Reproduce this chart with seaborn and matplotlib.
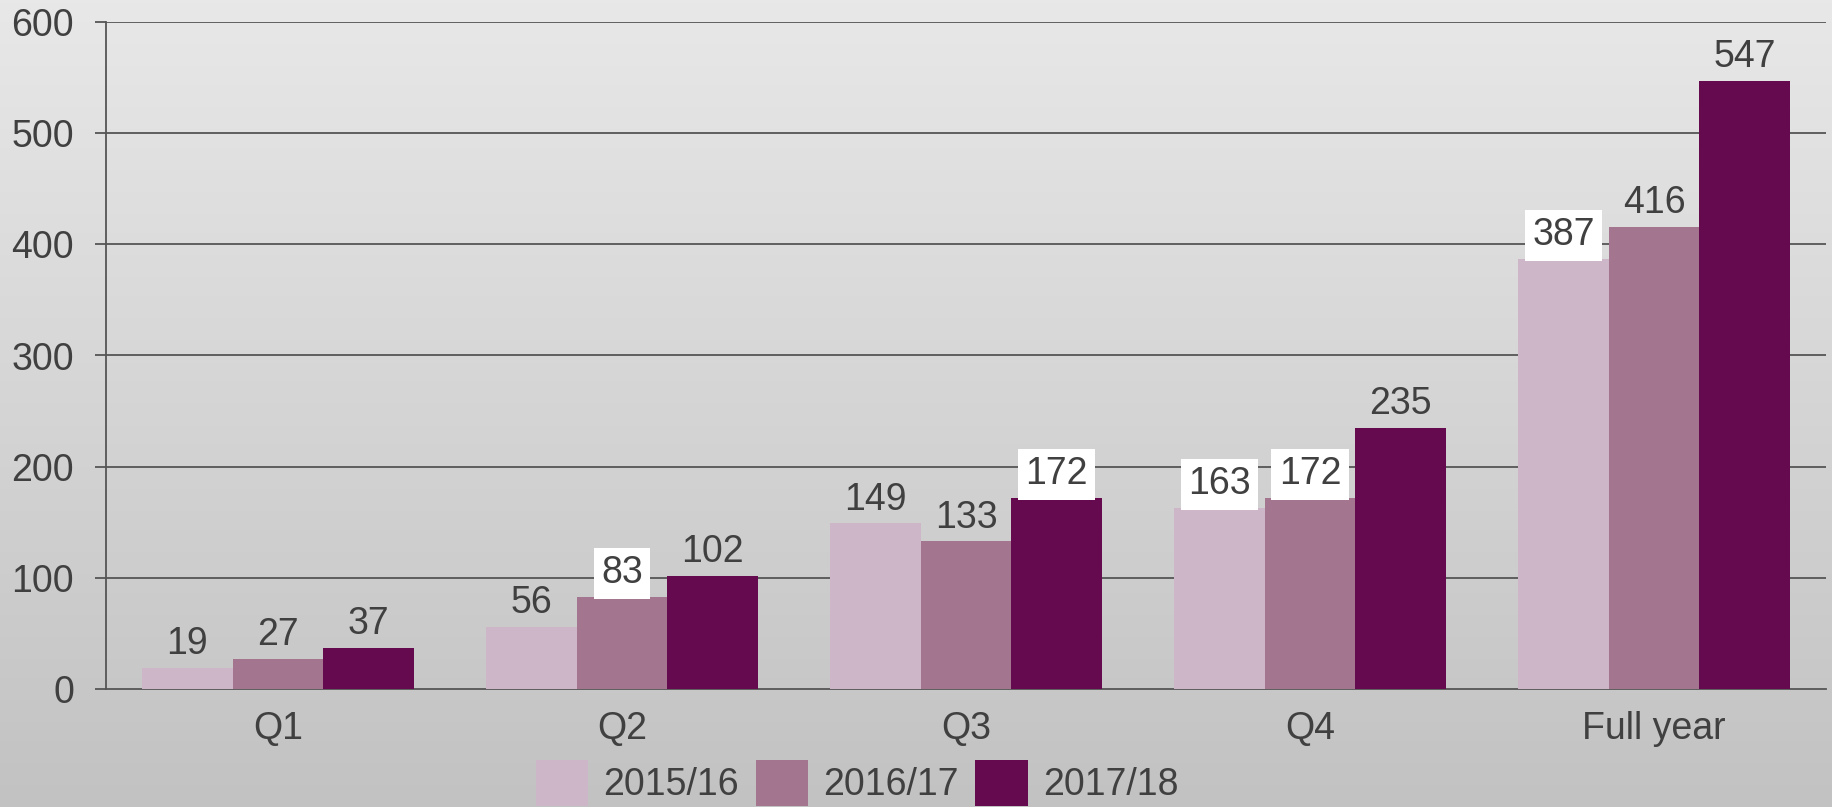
import numpy as np
import pandas as pd
import matplotlib
matplotlib.use("Agg")
import matplotlib.pyplot as plt
import seaborn as sns
from matplotlib.colors import LinearSegmentedColormap
from matplotlib.patches import Patch

categories = ["Q1", "Q2", "Q3", "Q4", "Full year"]
years = ["2015/16", "2016/17", "2017/18"]
v_2015 = [19, 56, 149, 163, 387]
v_2016 = [27, 83, 133, 172, 416]
v_2017 = [37, 102, 172, 235, 547]
colors = ["#cdb6c8", "#a3758f", "#660a50"]
boxed = {("Q2", "2016/17"), ("Q3", "2017/18"), ("Q4", "2015/16"),
         ("Q4", "2016/17"), ("Full year", "2015/16")}

df = pd.DataFrame({
    "cat": categories * 3,
    "year": [years[0]] * 5 + [years[1]] * 5 + [years[2]] * 5,
    "value": v_2015 + v_2016 + v_2017,
})

sns.set_style("white")
plt.rcParams["font.family"] = ["Liberation Sans", "DejaVu Sans"]
txt = "#404040"
fs = 27

fig = plt.figure(figsize=(18.32, 8.07), dpi=100)
# gradient background
bg = fig.add_axes([0, 0, 1, 1], zorder=-10)
cmap = LinearSegmentedColormap.from_list("g", ["#e8e8e8", "#c2c2c2"])
bg.imshow(np.linspace(0, 1, 256).reshape(-1, 1), aspect="auto", cmap=cmap,
          extent=[0, 1, 0, 1])
bg.axis("off")

ax = fig.add_axes([106 / 1832, 1 - 689 / 807, (1826 - 106) / 1832, (689 - 22) / 807])
ax.set_facecolor("none")
sns.barplot(data=df, x="cat", y="value", hue="year", palette=colors,
            width=0.79, saturation=1, ax=ax, legend=False, zorder=3,
            linewidth=0, edgecolor="none")

ax.set_ylim(0, 600)
ax.set_yticks(range(0, 601, 100))
ax.set_xlim(-0.5, 4.5)
for y in range(100, 601, 100):
    ax.axhline(y, color="#555555", lw=1.3, zorder=1)
for s in ["top", "right"]:
    ax.spines[s].set_visible(False)
ax.spines["left"].set_color("#555555")
ax.spines["bottom"].set_color("#555555")
ax.spines["left"].set_linewidth(1.3)
ax.spines["bottom"].set_linewidth(1.3)
ax.tick_params(axis="y", length=8, width=1.3, color="#555555", pad=15,
               labelsize=fs, labelcolor=txt, left=True)
ax.tick_params(axis="x", length=0, pad=16, labelsize=fs, labelcolor=txt)
ax.set_xlabel("")
ax.set_ylabel("")

for ci, cont in enumerate(ax.containers):
    labels = ax.bar_label(cont, padding=4, fontsize=fs, color=txt, zorder=5)
    for ti, t in enumerate(labels):
        if (categories[ti], years[ci]) in boxed:
            t.set_bbox(dict(boxstyle="square,pad=0.2", fc="white", ec="none"))

handles = [Patch(facecolor=c, edgecolor="none") for c in colors]
fig.legend(handles, years, loc="lower center", bbox_to_anchor=(857 / 1832, -0.04),
           ncol=3, frameon=False, fontsize=fs, labelcolor=txt,
           handlelength=1.4, handleheight=1.5, handletextpad=0.4, columnspacing=0.45)

fig.savefig("out.png", dpi=100)
